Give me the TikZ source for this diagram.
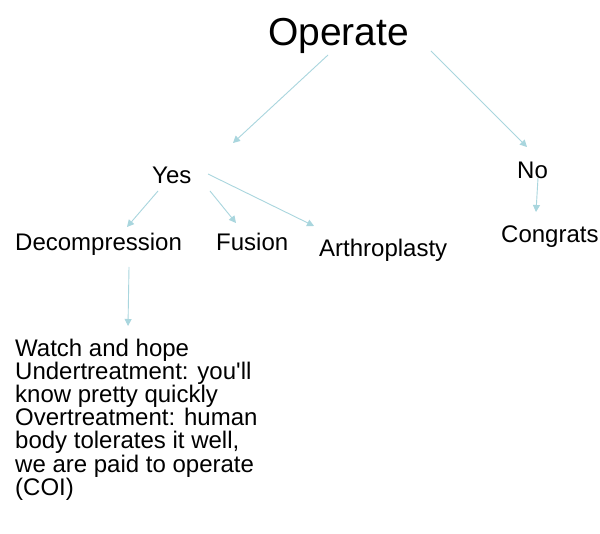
\documentclass[tikz,border=0pt]{standalone}
\usepackage{fontspec}
\setmainfont{Liberation Sans}
\usetikzlibrary{arrows.meta,calc}
\definecolor{arrblue}{RGB}{169,214,222}
\begin{document}
\begin{tikzpicture}[x=1pt,y=-1pt,
  lbl/.style={inner sep=0pt,font=\fontsize{24}{23.1}\selectfont},
  arr/.style={draw=arrblue,line width=0.9pt,-{Triangle[length=7pt,width=7pt]},arrows={[fill=arrblue]}}]
\useasboundingbox[fill=white] (0,0) rectangle (600,534);
\node[inner sep=0pt,font=\fontsize{39}{40}\selectfont,anchor=base] (op) at (338.5,45.5) {Operate};
\node[lbl,anchor=base west] (yes) at (152,183.5) {Yes};
\node[lbl,anchor=base west] (no) at (517,178.5) {No};
\node[lbl,anchor=base west] (dec) at (15,251) {Decompression};
\node[lbl,anchor=base west] (fus) at (216,251) {Fusion};
\node[lbl,anchor=base west] (arth) at (319,256.7) {Arthroplasty};
\node[lbl,anchor=base west] (con) at (501,243) {Congrats};
\node[lbl,anchor=north west,align=left] (watch) at (15,339) {Watch and hope\\Undertreatment: you\textquotesingle ll\\know pretty quickly\\Overtreatment: human\\body tolerates it well,\\we are paid to operate\\(COI)};
\draw[arr] ($(op.base)+(-10.5,9.5)$) -- ($(yes.base west)+(81,-40.5)$);
\draw[arr] ($(op.base)+(92.5,5.5)$) -- ($(no.base west)+(10,-31.5)$);
\draw[arr] ($(yes.base west)+(6,7.5)$) -- ($(dec.base west)+(112,-24)$);
\draw[arr] ($(yes.base west)+(58,7.5)$) -- ($(fus.base west)+(20,-28)$);
\draw[arr] ($(yes.base west)+(56,-9.5)$) -- ($(arth.base west)+(-5,-30.7)$);
\draw[arr] ($(no.base west)+(21,-0.5)$) -- ($(con.base west)+(35,-31)$);
\draw[arr] ($(dec.base west)+(114,16)$) -- ($(watch.north west)+(113,-13)$);
\end{tikzpicture}
\end{document}
